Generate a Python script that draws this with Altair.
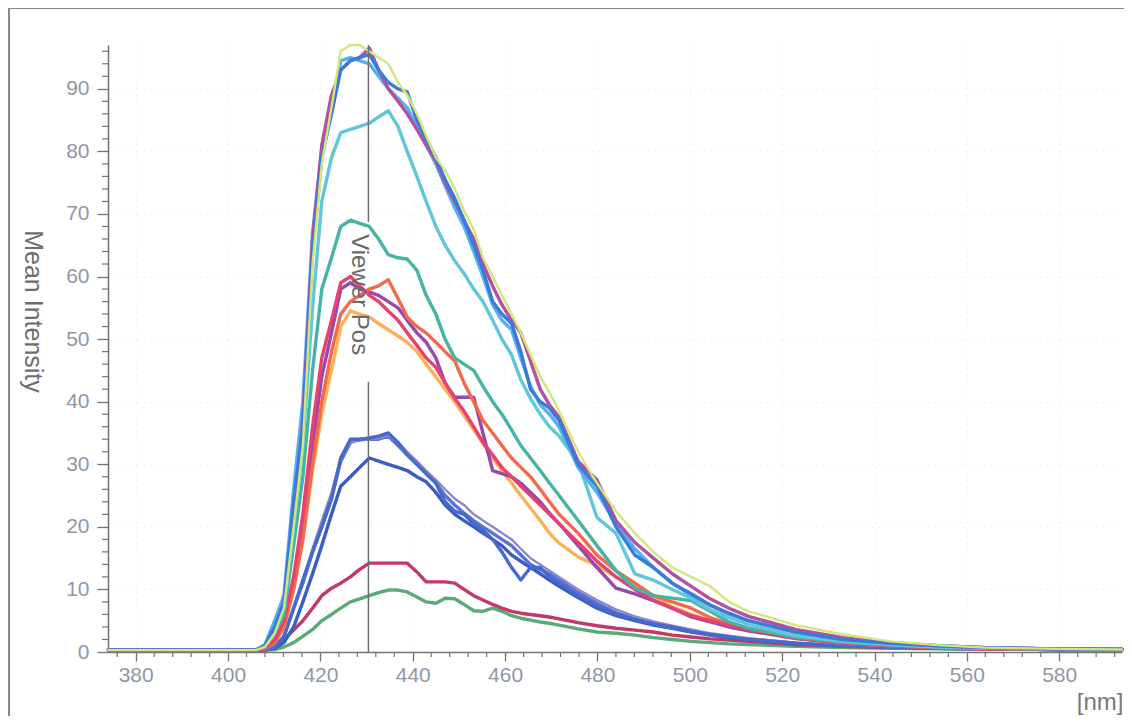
import altair as alt
import pandas as pd

# ---------------- data ----------------
wavelength = [374.1, 406.0, 408.0, 410.1, 412.1, 414.2, 416.2, 418.3, 420.3, 422.4, 424.4,
              426.5, 428.5, 430.6, 432.6, 434.7, 436.8, 438.8, 440.9, 442.9, 445.0, 447.0,
              449.1, 451.1, 453.2, 455.2, 457.3, 459.3, 461.4, 463.4, 465.5, 467.6, 469.6,
              471.7, 475.8, 479.9, 484.0, 488.1, 492.1, 496.2, 500.3, 504.4, 508.5, 512.7,
              522.9, 533.2, 543.5, 553.8, 564.0, 579.4, 593.6]

green = [0.3, 0.3, 0.3, 0.4, 0.8, 1.5, 2.5, 3.6, 5, 6, 7, 8, 8.5, 9, 9.5, 9.9, 9.9, 9.6, 8.8, 8, 7.8, 8.6,
         8.5, 7.6, 6.6, 6.5, 7, 6.5, 5.8, 5.4, 5.1, 4.8, 4.6, 4.3, 3.7, 3.2, 3, 2.7, 2.3, 2, 1.7, 1.5,
         1.3, 1.2, 0.9, 0.7, 0.6, 0.5, 0.5, 0.4, 0.4]
crimson = [0.3, 0.3, 0.3, 0.8, 2, 3.5, 5, 7, 9, 10.2, 11, 12, 13.2, 14.2, 14.2, 14.2, 14.2, 14.2, 12.8,
           11.2, 11.2, 11.2, 11, 10, 9, 8.3, 7.6, 7, 6.5, 6.2, 6, 5.8, 5.6, 5.3, 4.7, 4.2, 3.8, 3.5,
           3.2, 2.7, 2.4, 2.1, 1.9, 1.7, 1.2, 0.9, 0.7, 0.6, 0.5, 0.4, 0.4]
blue_b = [0.3, 0.3, 0.3, 0.6, 1.5, 4, 8, 12.5, 17, 22, 26.5, 28, 29.5, 31, 30.5, 30, 29.5, 29, 28, 27.2,
          25.5, 23.5, 22, 21, 20, 19, 18, 17, 15.5, 14.5, 13.5, 12.5, 11.5, 10.5, 8.7, 7, 5.8, 5, 4.3,
          3.8, 3.2, 2.7, 2.3, 2, 1.3, 1, 0.8, 0.6, 0.5, 0.4, 0.4]
blue_2 = [0.3, 0.3, 0.3, 0.8, 2.5, 7, 11, 16, 20, 24.5, 30.5, 33.5, 34, 34, 34, 34.5, 33, 31.5, 30, 28.5,
          27, 25, 23.5, 22.2, 21, 20, 19, 18, 17, 15.5, 14, 13.2, 12.5, 11.5, 9.5, 7.8, 6.3, 5.3, 4.5,
          3.9, 3.3, 2.8, 2.4, 2.1, 1.4, 1, 0.8, 0.6, 0.5, 0.4, 0.4]
lavender = [0.3, 0.3, 0.3, 0.8, 2.5, 7, 11.5, 16.5, 21, 25.5, 31, 33.5, 33.8, 34, 34.2, 34.5, 33.5, 32,
            30.5, 29, 27.5, 26, 24.5, 23.5, 22, 21, 20, 19, 18, 16.5, 15, 14, 13, 12, 10, 8.3, 6.8,
            5.7, 4.9, 4.2, 3.6, 3, 2.6, 2.2, 1.5, 1, 0.8, 0.6, 0.5, 0.4, 0.4]
blue_a = [0.3, 0.3, 0.3, 0.8, 2.5, 7, 11.5, 16, 20, 24.5, 31, 34, 34, 34.2, 34.5, 35, 33.5, 31.5, 30,
          28.5, 27, 24, 22.5, 22, 20.5, 19.5, 18, 16, 13.5, 11.5, 13.5, 13.5, 12, 11, 9, 7.3, 6, 5.2,
          4.5, 4, 3.3, 2.8, 2.4, 2, 1.4, 1, 0.8, 0.6, 0.5, 0.4, 0.4]
light_orange = [0.3, 0.3, 0.5, 1.5, 4, 10, 18, 29, 38, 45, 52, 54.5, 54, 53.5, 52.5, 51.5, 50.5, 49.5,
                48, 46, 44, 42, 40, 37.8, 35.5, 33.3, 31, 29, 27, 25, 23, 21, 19, 17.4, 15.2, 13.8,
                12, 10.5, 9, 7.2, 6, 5, 4.2, 3.4, 2.1, 1.4, 1, 0.7, 0.5, 0.4, 0.4]
purple = [0.3, 0.3, 0.5, 1.8, 4.5, 11, 20, 33, 44, 51, 58, 59, 58, 57.5, 57, 56, 55, 53, 51, 49.5, 47,
          43, 40.7, 40.7, 40.7, 35, 29, 28.5, 28, 27, 25.5, 24, 22.2, 20.5, 17, 13.5, 10.2, 9.3, 8.2,
          7, 5.6, 4.8, 4, 3.4, 2.2, 1.4, 1, 0.7, 0.5, 0.4, 0.4]
orange_red = [0.3, 0.3, 0.5, 1.5, 4, 10, 18, 30, 40, 48, 54, 56, 57, 58, 58.5, 59.5, 56.5, 53.5, 52, 51,
              49.5, 48, 46.5, 43, 40, 37, 35, 33, 31, 29.5, 28, 26, 24, 22, 19, 15.5, 13, 11, 9, 8, 7,
              5.5, 4.5, 3.7, 2.3, 1.5, 1, 0.7, 0.5, 0.4, 0.4]
red = [0.3, 0.3, 0.6, 2, 5, 12, 22, 36, 47, 53, 59, 60, 58.5, 57, 56, 54.5, 53, 51, 49, 47, 45.5, 43,
       40.5, 38.5, 36, 33.5, 31.5, 29.5, 28, 26.5, 25, 23.5, 22, 20.5, 17.5, 14.5, 12, 10, 8.3, 7, 5.8,
       5, 4.3, 3.6, 2.3, 1.5, 1, 0.7, 0.5, 0.4, 0.4]
teal = [0.3, 0.3, 0.8, 3, 6, 17, 28, 45, 58, 63, 68, 69, 68.5, 68, 66, 63.5, 63, 62.8, 61, 57, 54, 50,
        47, 46, 45, 42.5, 40, 38, 35.5, 33, 31, 29, 27, 25, 21, 17, 13, 10.2, 9, 8.6, 8.2, 6.5, 4.8,
        3.8, 2.4, 1.6, 1.1, 0.8, 0.6, 0.5, 0.4]
cyan = [0.3, 0.3, 1, 3.5, 7, 20, 33, 55, 72, 79, 83, 83.5, 84, 84.5, 85.5, 86.5, 84, 80, 76, 72, 68,
        65, 62.5, 60.5, 58, 56, 53, 50, 47.5, 43.5, 40.5, 38, 36, 34.5, 30.5, 21.5, 19, 12.5, 11.5, 10,
        8.6, 6.8, 5.5, 4.4, 2.6, 1.7, 1.2, 0.8, 0.6, 0.5, 0.4]
sky = [0.3, 0.3, 1.2, 5, 9, 26, 40, 67, 80, 86, 94.5, 95, 94.5, 94, 92, 90, 88.5, 87, 84, 81, 78, 74.5,
       71, 68, 64, 60, 55.5, 53, 51.5, 47, 42.5, 39.5, 38, 36, 29.5, 25.5, 20.5, 16.5, 13.5, 11, 9,
       7.5, 6, 5, 3.2, 2, 1.4, 1, 0.7, 0.5, 0.4]
magenta = [0.3, 0.3, 0.8, 3.5, 8, 22, 37, 66, 81, 89, 93, 94.5, 95, 96.5, 93, 90, 88, 86, 83.5, 81,
           78.5, 75, 72, 69, 66, 62, 58.5, 55.5, 53, 51, 46.5, 42, 39.5, 37.5, 30.5, 27.5, 21, 17.5,
           15, 12.5, 10.5, 8.5, 7, 5.7, 3.6, 2.3, 1.5, 1, 0.7, 0.5, 0.4]
blue = [0.3, 0.3, 1, 4, 8, 24, 36, 64, 79, 86, 93, 94.5, 95, 95.5, 93, 91, 90, 89.5, 85, 82, 79, 75.5,
        72.5, 69, 65, 61, 56, 54, 52.5, 48, 42, 40, 39, 37, 30, 26.5, 20, 15.5, 13.5, 11, 9.3, 7.5,
        6.2, 5, 3.2, 2, 1.4, 1, 0.7, 0.5, 0.4]
yellow_green = [0.3, 0.3, 0.8, 3, 7, 20, 33, 62, 78, 87, 96, 97, 97, 96, 95, 94, 91, 89, 86, 82.5, 79,
                77, 74, 70.5, 67.5, 63, 60, 57, 54, 51, 47.5, 44, 41.5, 38.5, 32, 27, 22.5, 19, 16,
                13.5, 12, 10.5, 8, 6.5, 4.3, 2.8, 1.7, 1.1, 0.7, 0.5, 0.4]

series = {
    "green": green, "crimson": crimson, "blue_b": blue_b, "blue_2": blue_2,
    "lavender": lavender, "blue_a": blue_a, "light_orange": light_orange,
    "purple": purple, "orange_red": orange_red, "red": red, "teal": teal,
    "cyan": cyan, "sky": sky, "magenta": magenta, "blue": blue,
    "yellow_green": yellow_green,
}

y_ticks = list(range(0, 100, 10))
x_ticks = list(range(380, 600, 20))
y_minor = [v for v in range(2, 97, 2) if v % 10]
x_minor = [v for v in range(376, 594, 4) if v % 20]
viewer_x = 430.4
viewer_label = "Viewer Pos"

# ---------------- styles ----------------
colors = {
    "green": "#58ab74", "crimson": "#c2386a", "blue_b": "#3b5dc2", "blue_2": "#5a73d2",
    "lavender": "#8d88cb", "blue_a": "#4569cd", "light_orange": "#fbb257",
    "purple": "#9349b0", "orange_red": "#f4694a", "red": "#e9416f", "teal": "#45b4a4",
    "cyan": "#60c6dc", "sky": "#57aef0", "magenta": "#b64fa1", "blue": "#3b7bd8",
    "yellow_green": "#d3e678",
}
widths = {k: 3.4 for k in series}
widths["yellow_green"] = 2.4
widths["lavender"] = 2.4

for k, v in series.items():
    if len(v) != len(wavelength):
        raise ValueError(f"{k}: {len(v)} values")

rows = []
for name, vals in series.items():
    for wl, val in zip(wavelength, vals):
        rows.append({"series": name, "wl": wl, "v": val, "w": widths[name]})
df = pd.DataFrame(rows)

names = list(series.keys())
W, H = 1014, 607
xscale = alt.Scale(domain=[374, 593.6], nice=False, zero=False)
yscale = alt.Scale(domain=[0, 97], nice=False)
FONT = "Liberation Sans"
AXC = "#747474"
LABC = "#8e98a5"

xaxis = alt.Axis(values=x_ticks, tickSize=9, tickWidth=1.3, tickColor=AXC,
                 domainColor=AXC, domainWidth=1.5, labelFontSize=21,
                 labelColor=LABC, labelFont=FONT, labelPadding=3,
                 grid=True, gridColor="#efefef", gridDash=[2, 5],
                 title="[nm]", titleX=W + 1, titleY=62, titleAlign="right",
                 titleBaseline="bottom", titleFontSize=24,
                 titleFontWeight="normal", titleColor="#777777", titleFont=FONT)
yaxis = alt.Axis(values=y_ticks, tickSize=11, tickWidth=1.3, tickColor=AXC,
                 domainColor=AXC, domainWidth=1.5, labelFontSize=21,
                 labelColor=LABC, labelFont=FONT, labelPadding=8,
                 grid=True, gridColor="#efefef", gridDash=[2, 5],
                 title="Mean Intensity", titleAngle=90, titleX=-76, titleY=266,
                 titleAlign="center", titleBaseline="middle", titleFontSize=25,
                 titleFontWeight="normal", titleColor="#6d6d6d", titleFont=FONT)

lines = alt.Chart(df).mark_line(strokeJoin="round", strokeCap="round").encode(
    x=alt.X("wl:Q", scale=xscale, axis=xaxis),
    y=alt.Y("v:Q", scale=yscale, axis=yaxis),
    color=alt.Color("series:N", scale=alt.Scale(domain=names, range=[colors[n] for n in names]),
                    legend=None),
    strokeWidth=alt.StrokeWidth("w:Q", scale=None),
    detail="series:N",
)

viewer_df = pd.DataFrame({"wl": [viewer_x, viewer_x], "v": [97, 43.2], "v2": [68.7, 0]})
viewer_rule = alt.Chart(viewer_df).mark_rule(color="#6e6e6e", strokeWidth=1.5).encode(
    x=alt.X("wl:Q", scale=xscale, axis=xaxis),
    y=alt.Y("v:Q", scale=yscale, axis=yaxis),
    y2="v2:Q",
)
viewer_text = alt.Chart(pd.DataFrame({"wl": [viewer_x + 0.6], "v": [57.1], "t": [viewer_label]})).mark_text(
    angle=90, align="center", baseline="top", fontSize=24, font=FONT, color="#6a6a6a"
).encode(
    x=alt.X("wl:Q", scale=xscale, axis=xaxis),
    y=alt.Y("v:Q", scale=yscale, axis=yaxis),
    text="t:N",
)

ym = alt.Chart(pd.DataFrame({"v": y_minor})).mark_rule(color=AXC, strokeWidth=1.2).encode(
    y=alt.Y("v:Q", scale=yscale, axis=yaxis), x=alt.value(-6), x2=alt.value(0))
xm = alt.Chart(pd.DataFrame({"wl": x_minor})).mark_rule(color=AXC, strokeWidth=1.2).encode(
    x=alt.X("wl:Q", scale=xscale, axis=xaxis), y=alt.value(H), y2=alt.value(H + 5))

one = pd.DataFrame({"a": [0]})
band_left = alt.Chart(one).mark_rect(color="#8a8a8a").encode(
    x=alt.value(-100), x2=alt.value(-98), y=alt.value(-37), y2=alt.value(H + 64))
band_top = alt.Chart(one).mark_rect(color="#8a8a8a").encode(
    x=alt.value(-100), x2=alt.value(W + 2), y=alt.value(-37), y2=alt.value(-36))

chart = alt.layer(lines, viewer_rule, viewer_text, ym, xm, band_left, band_top).properties(
    width=W, height=H,
    padding={"left": 100, "top": 37, "right": 2, "bottom": 64},
    autosize=alt.AutoSizeParams(type="none"),
    background="white",
).configure_view(stroke="transparent")

chart.save("out.html", embed_options={"renderer": "svg", "actions": False})
